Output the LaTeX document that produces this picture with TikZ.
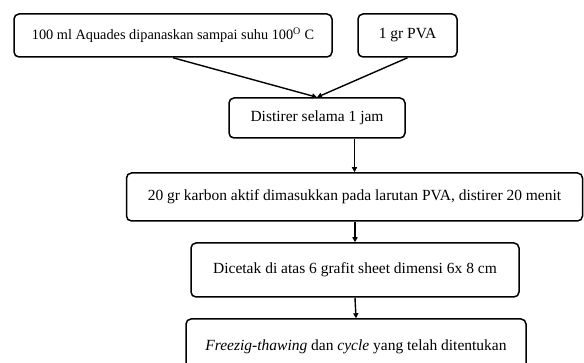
\documentclass[tikz,border=0pt]{standalone}
\usepackage{fontspec}
\setmainfont{Liberation Serif}
\usetikzlibrary{arrows.meta}

\begin{document}
\begin{tikzpicture}[x=1pt,y=1pt,
    langkah/.style={draw=black,line width=1.5pt,rounded corners=5pt,align=center,
        inner sep=0pt,font=\fontsize{15.5}{18}\selectfont},
    panah/.style={black,line width=1.4pt,-{Triangle[length=5pt,width=5pt]}}]
            \useasboundingbox (0,0) rectangle (584,363);
            \clip (0,0) rectangle (584,363);
            \node[langkah,minimum width=318pt,minimum height=43pt,font=\fontsize{14.3}{17}\selectfont] (aquades) at (173,327.5)
                {100 ml Aquades dipanaskan sampai suhu 100\textsuperscript{O} C};
            \node[langkah,minimum width=99pt,minimum height=43pt] (pva) at (407.5,327.5) {1 gr PVA};
            \node[langkah,minimum width=176pt,minimum height=40pt] (stir) at (317,245) {Distirer selama 1 jam};
            \node[langkah,minimum width=456pt,minimum height=48pt] (karbon) at (354.5,166)
                {20 gr karbon aktif dimasukkan pada larutan PVA, distirer 20 menit};
            \node[langkah,minimum width=328pt,minimum height=54pt] (cetak) at (355,93)
                {Dicetak di atas 6 grafit sheet dimensi 6x 8 cm};
            \node[langkah,minimum width=340pt,minimum height=56pt] (freeze) at (356,16)
                {\textit{Freezig-thawing} dan \textit{cycle} yang telah ditentukan};

            \draw[panah](aquades.south) -- (stir.north);
            \draw[panah](pva.south) -- (stir.north);
            \draw[panah](stir.south -| karbon.north) -- (karbon.north);
            \draw[panah](cetak.north |- karbon.south) -- (cetak.north);
            \draw[panah](cetak.south) -- (freeze.north);
        \end{tikzpicture}
\end{document}
